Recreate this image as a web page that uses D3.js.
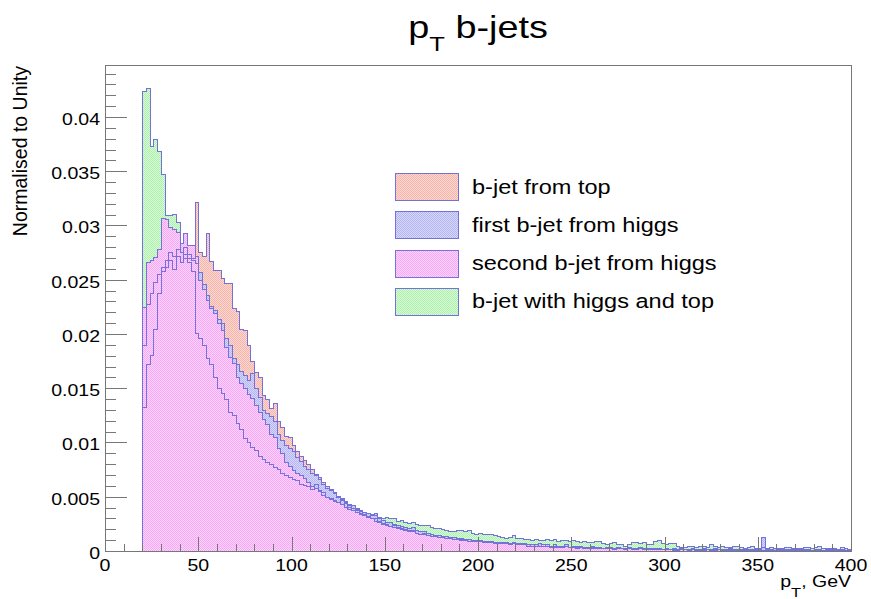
<!DOCTYPE html>
<html>
<head>
<meta charset="utf-8">
<script src="https://cdn.jsdelivr.net/npm/d3@7"></script>
<style>
  body { margin: 0; background: #fff; }
  svg { display: block; font-family: "Liberation Sans", Arial, Helvetica, sans-serif; }
</style>
</head>
<body>
<svg id="chart" width="871" height="599"></svg>
<script>
// bins: 2 GeV wide, from 20 to 400 GeV; contents in units of 1e-4
const binStart = 20;
const binWidth = 2;
const binLow = d3.range(binStart, 400, binWidth);
const UNIT = 1e-4;

const legendLabels = ["b-jet from top", "first b-jet from higgs", "second b-jet from higgs", "b-jet with higgs and top"];

const topJet = [
  190, 228, 238, 248, 255, 262, 268, 276, 272, 278,
  276, 280, 274, 270, 322, 276, 272, 293, 267, 259,
  259, 252, 247, 247, 224, 221, 205, 204, 190, 175,
  165, 160, 144, 140, 132, 136, 120, 114, 106, 105,
  98, 92, 88, 84, 80, 76, 71, 68, 64, 60,
  57, 54, 51, 49, 45, 42, 40, 38, 35, 34,
  32, 30, 30, 28, 26, 25, 23, 24, 21, 20,
  20, 18, 19, 17, 16, 17, 15, 14, 15, 13,
  13, 12, 13, 11, 12, 11, 10, 11, 10, 9,
  10, 9, 8, 9, 8, 8, 7, 8, 7, 7,
  6, 7, 6, 6, 5, 6, 5, 5, 6, 5,
  4, 5, 4, 5, 4, 4, 5, 4, 3, 4,
  4, 3, 4, 3, 3, 4, 3, 3, 3, 2,
  3, 3, 2, 3, 2, 3, 2, 2, 3, 2,
  2, 2, 1, 2, 2, 2, 1, 2, 2, 1,
  2, 2, 1, 2, 2, 1, 2, 1, 2, 2,
  1, 2, 1, 2, 1, 2, 1, 2, 1, 1,
  2, 1, 1, 2, 1, 1, 2, 1, 1, 1,
  1, 2, 1, 1, 1, 2, 1, 1, 1, 1
];

const higgsFirst = [
  133, 172, 181, 205, 238, 258, 262, 268, 260, 272,
  266, 274, 270, 268, 265, 257, 246, 236, 226, 222,
  214, 210, 196, 190, 178, 172, 166, 162, 158, 164,
  150, 142, 130, 127, 124, 120, 108, 102, 98, 95,
  92, 87, 83, 78, 76, 72, 70, 66, 62, 58,
  56, 53, 50, 48, 46, 43, 42, 40, 37, 36,
  35, 34, 35, 30, 29, 27, 27, 25, 24, 23,
  22, 21, 22, 19, 18, 18, 17, 16, 15, 15,
  14, 14, 13, 13, 12, 12, 11, 11, 10, 10,
  10, 9, 9, 9, 8, 8, 8, 7, 7, 8,
  7, 6, 7, 6, 6, 6, 7, 5, 6, 5,
  6, 5, 5, 6, 4, 5, 4, 5, 4, 4,
  5, 4, 4, 3, 4, 4, 3, 4, 3, 3,
  4, 3, 3, 4, 3, 3, 2, 3, 3, 2,
  3, 2, 3, 2, 3, 2, 2, 3, 2, 2,
  3, 2, 2, 3, 2, 2, 2, 3, 2, 2,
  2, 3, 2, 2, 2, 2, 13, 2, 2, 3,
  2, 2, 2, 1, 2, 2, 1, 2, 2, 1,
  2, 2, 1, 2, 2, 1, 2, 2, 3, 2
];

const higgsSecond = [
  225, 266, 268, 271, 278, 307, 306, 299, 297, 294,
  284, 293, 282, 282, 272, 250, 241, 231, 224, 219,
  210, 204, 188, 179, 173, 160, 155, 150, 145, 141,
  135, 128, 122, 117, 108, 105, 95, 90, 82, 78,
  75, 72, 70, 67, 64, 60, 58, 56, 54, 50,
  49, 47, 45, 43, 41, 39, 38, 36, 34, 33,
  31, 30, 28, 27, 25, 24, 23, 22, 22, 21,
  19, 19, 18, 17, 16, 16, 15, 14, 14, 13,
  13, 12, 12, 11, 11, 10, 10, 9, 9, 9,
  9, 8, 8, 8, 7, 7, 8, 7, 6, 7,
  6, 6, 7, 5, 6, 5, 5, 6, 5, 4,
  5, 4, 4, 5, 4, 4, 3, 4, 4, 3,
  3, 4, 3, 3, 3, 3, 2, 3, 3, 2,
  3, 2, 2, 3, 2, 2, 3, 2, 2, 2,
  2, 2, 2, 1, 2, 2, 1, 2, 1, 2,
  1, 2, 1, 1, 2, 1, 1, 2, 1, 1,
  1, 1, 2, 1, 1, 1, 1, 1, 1, 1,
  1, 1, 1, 1, 1, 1, 1, 1, 1, 1,
  1, 1, 1, 1, 1, 1, 1, 1, 1, 1
];

const higgsAndTop = [
  424, 427, 373, 380, 369, 347, 310, 310, 311, 303,
  276, 270, 266, 258, 201, 196, 190, 178, 172, 160,
  150, 146, 140, 128, 125, 118, 112, 104, 100, 96,
  93, 88, 85, 82, 80, 77, 76, 72, 70, 68,
  66, 65, 62, 61, 60, 57, 62, 55, 52, 50,
  48, 46, 45, 47, 44, 41, 42, 39, 38, 36,
  35, 33, 33, 31, 30, 31, 30, 30, 28, 29,
  27, 26, 27, 25, 24, 24, 24, 22, 21, 21,
  20, 19, 18, 18, 19, 19, 18, 19, 17, 16,
  17, 16, 16, 16, 15, 14, 13, 12, 13, 15,
  12, 12, 11, 11, 10, 11, 10, 10, 11, 10,
  11, 9, 10, 10, 9, 10, 9, 8, 9, 8,
  8, 9, 9, 7, 6, 7, 8, 6, 6, 5,
  6, 8, 8, 7, 8, 6, 6, 9, 10, 7,
  6, 7, 7, 5, 4, 4, 5, 5, 4, 5,
  5, 4, 6, 5, 4, 5, 4, 4, 5, 5,
  4, 3, 4, 5, 3, 3, 4, 3, 4, 3,
  3, 3, 4, 4, 3, 3, 3, 4, 4, 3,
  4, 5, 3, 3, 3, 3, 2, 4, 3, 2
];

const xTicks = [0, 50, 100, 150, 200, 250, 300, 350, 400];
const xTickLabels = ["0", "50", "100", "150", "200", "250", "300", "350", "400"];
const yTicks = [0, 0.005, 0.01, 0.015, 0.02, 0.025, 0.03, 0.035, 0.04];
const yTickLabels = ["0", "0.005", "0.01", "0.015", "0.02", "0.025", "0.03", "0.035", "0.04"];

const svg = d3.select("#chart");
const width = 871;
const height = 599;
const frame = { left: 105, right: 851, top: 65, bottom: 551 };
const STRETCH = 1.22; // horizontal text stretch seen in the original
const axisColor = "#777";
const lineColor = "#7272da";

svg.append("rect").attr("width", width).attr("height", height).attr("fill", "#fff");

const x = d3.scaleLinear().domain([0, 400]).range([frame.left, frame.right]);
const y = d3.scaleLinear().domain([0, 0.04479]).range([frame.bottom, frame.top]);

// draw order: green first, pink last (as in the original canvas)
const series = [
  { key: "green", label: legendLabels[3], values: higgsAndTop, dark: "#acf0ac", light: "#d8fad8" },
  { key: "red", label: legendLabels[0], values: topJet, dark: "#f7b4aa", light: "#fcd8d2" },
  { key: "blue", label: legendLabels[1], values: higgsFirst, dark: "#b4b4f3", light: "#d8d8fa" },
  { key: "pink", label: legendLabels[2], values: higgsSecond, dark: "#f6a8f6", light: "#fcd4fc" }
];

// checker hatch patterns
const defs = svg.append("defs");
series.forEach(s => {
  const p = defs.append("pattern")
    .attr("id", "hatch-" + s.key)
    .attr("patternUnits", "userSpaceOnUse")
    .attr("width", 2)
    .attr("height", 2);
  p.append("rect").attr("width", 2).attr("height", 2).attr("fill", s.light)
    .attr("shape-rendering", "crispEdges");
  p.append("rect").attr("x", 0).attr("y", 0).attr("width", 1).attr("height", 1).attr("fill", s.dark)
    .attr("shape-rendering", "crispEdges");
  p.append("rect").attr("x", 1).attr("y", 1).attr("width", 1).attr("height", 1).attr("fill", s.dark)
    .attr("shape-rendering", "crispEdges");
});

function stepPoints(values) {
  const pts = [[binLow[0], 0]];
  values.forEach((v, i) => {
    pts.push([binLow[i], v * UNIT]);
    pts.push([binLow[i] + binWidth, v * UNIT]);
  });
  pts.push([binLow[binLow.length - 1] + binWidth, 0]);
  return pts;
}

const line = d3.line()
  .x(d => Math.round(x(d[0])) + 0.5)
  .y(d => Math.round(y(d[1])) + 0.5);

// fills first, outlines on top so the lower ones show through
const fills = svg.append("g");
const outlines = svg.append("g");
series.forEach(s => {
  const pts = stepPoints(s.values);
  fills.append("path")
    .attr("d", line(pts) + "Z")
    .attr("fill", `url(#hatch-${s.key})`)
    .attr("stroke", "none")
    .attr("shape-rendering", "crispEdges");
  outlines.append("path")
    .attr("d", line(pts))
    .attr("fill", "none")
    .attr("stroke", lineColor)
    .attr("stroke-width", 1)
    .attr("shape-rendering", "crispEdges");
});

// frame
svg.append("rect")
  .attr("x", frame.left + 0.5)
  .attr("y", frame.top + 0.5)
  .attr("width", frame.right - frame.left)
  .attr("height", frame.bottom - frame.top)
  .attr("fill", "none")
  .attr("stroke", axisColor)
  .attr("shape-rendering", "crispEdges");

// ticks, drawn inwards
function styleAxis(g) {
  g.selectAll("path, line").attr("stroke", axisColor).attr("shape-rendering", "crispEdges");
}
svg.append("g")
  .attr("transform", `translate(0,${frame.bottom})`)
  .call(d3.axisBottom(x).tickValues(d3.range(0, 401, 10)).tickSize(-7).tickSizeOuter(0).tickFormat(""))
  .call(styleAxis);
svg.append("g")
  .attr("transform", `translate(0,${frame.bottom})`)
  .call(d3.axisBottom(x).tickValues(xTicks).tickSize(-14).tickSizeOuter(0).tickFormat(""))
  .call(styleAxis);
svg.append("g")
  .attr("transform", `translate(${frame.left},0)`)
  .call(d3.axisLeft(y).tickValues(d3.range(0, 0.0445, 0.001)).tickSize(-11).tickSizeOuter(0).tickFormat(""))
  .call(styleAxis);
svg.append("g")
  .attr("transform", `translate(${frame.left},0)`)
  .call(d3.axisLeft(y).tickValues(yTicks).tickSize(-22).tickSizeOuter(0).tickFormat(""))
  .call(styleAxis);

function stretchedText(tx, ty, size, anchor, sx) {
  return svg.append("text")
    .attr("transform", `translate(${tx},${ty}) scale(${sx || STRETCH},1)`)
    .attr("text-anchor", anchor)
    .attr("font-size", size)
    .attr("fill", "#000");
}

// tick labels
xTicks.forEach((t, i) => {
  stretchedText(x(t), frame.bottom + 20, 16, "middle").text(xTickLabels[i]);
});
yTicks.forEach((t, i) => {
  stretchedText(frame.left - 5, y(t) + 8, 16, "end").text(yTickLabels[i]);
});

// axis titles
const xt = stretchedText(frame.right, 587, 16, "end");
xt.append("tspan").text("p");
xt.append("tspan").attr("font-size", 13.5).attr("dy", 10).text("T");
xt.append("tspan").attr("dy", -10).text(", GeV");

svg.append("text")
  .attr("transform", `translate(27,${frame.top + 1}) rotate(-90)`)
  .attr("text-anchor", "end")
  .attr("font-size", 19.5)
  .attr("fill", "#000")
  .text("Normalised to Unity");

// title
const title = stretchedText((frame.left + frame.right) / 2, 38, 31, "middle");
title.append("tspan").text("p");
title.append("tspan").attr("font-size", 21).attr("dy", 13).text("T");
title.append("tspan").attr("dy", -13).text(" b-jets");

// legend
const legend = { x: 395, y: 173, boxW: 63, boxH: 27, step: 38.3 };
const legendOrder = [series[1], series[2], series[3], series[0]];
legendOrder.forEach((s, i) => {
  const top = legend.y + i * legend.step;
  svg.append("rect")
    .attr("x", legend.x + 0.5)
    .attr("y", Math.round(top) + 0.5)
    .attr("width", legend.boxW)
    .attr("height", legend.boxH)
    .attr("fill", `url(#hatch-${s.key})`)
    .attr("stroke", lineColor)
    .attr("shape-rendering", "crispEdges");
  stretchedText(472, top + legend.boxH / 2 + 7, 19.3, "start").text(s.label);
});
</script>
</body>
</html>
